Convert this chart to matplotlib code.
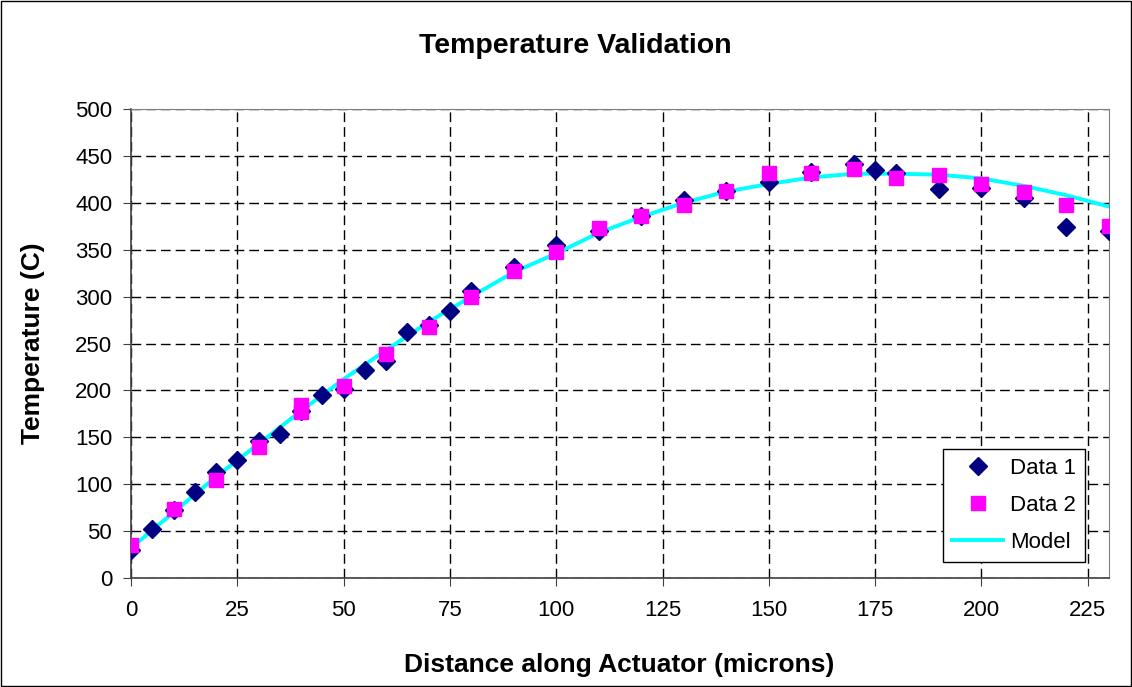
import numpy as np
import matplotlib.pyplot as plt

plt.rcParams['font.family'] = ['Liberation Sans', 'DejaVu Sans']

# Data 1 (diamonds)
x1 = [0, 5, 10, 15, 20, 25, 30, 35, 40, 45, 50, 55, 60, 65, 70, 75, 80, 90,
      100, 110, 120, 130, 140, 150, 160, 170, 175, 180, 190, 200, 210, 220, 230]
y1 = [30, 52, 72, 92, 113, 126, 146, 153, 178, 195, 202, 222, 231, 262, 270, 285, 306, 332,
      355, 370, 386, 403, 413, 422, 433, 441, 435, 432, 415, 416, 405, 374, 370]

# Data 2 (squares)
x2 = [0, 10, 20, 30, 40, 40, 50, 60, 70, 80, 90, 100, 110, 120, 130, 140,
      150, 160, 170, 180, 190, 200, 210, 220, 230]
y2 = [35, 74, 104, 140, 177, 184, 205, 239, 268, 300, 327, 348, 373, 386, 398, 413,
      432, 432, 436, 426, 430, 420, 411, 398, 375]

# Model curve
xm = [0, 10, 20, 30, 40, 50, 60, 70, 80, 90, 100, 110, 120, 130, 140, 150,
      160, 170, 180, 190, 200, 210, 220, 230]
ym = [32, 70, 108, 143, 178, 212, 243, 273, 300, 326, 346, 368, 385, 400, 412, 420,
      427, 431, 431, 430, 426, 418, 408, 396]

fig = plt.figure(figsize=(11.32, 6.87), dpi=100)
ax = fig.add_axes([131/1132, 1 - 578/687, (1109 - 131)/1132, (578 - 109)/687])

ax.plot(xm, ym, color='#00FFFF', lw=2.8, label='Model', zorder=2)
ax.plot(x1, y1, 'D', color='#000080', markersize=9, ls='none', label='Data 1', zorder=3)
ax.plot(x2, y2, 's', color='#FF00FF', markersize=10, ls='none', label='Data 2', zorder=4)

ax.set_xlim(0, 230)
ax.set_ylim(0, 500)
ax.set_xticks(np.arange(0, 226, 25))
ax.set_yticks(np.arange(0, 501, 50))
ax.grid(True, color='black', ls=(0, (7, 3.6)), lw=1)
ax.tick_params(labelsize=16, direction='out', length=5.5, color='#404040')
ax.tick_params(axis='y', pad=8)
ax.tick_params(axis='x', pad=10)
for s in ['top', 'right']:
    ax.spines[s].set_color('#808080')
for s in ['left', 'bottom']:
    ax.spines[s].set_color('#404040')
    ax.spines[s].set_linewidth(1.2)

fig.text(575/1132, 1 - 46/687, 'Temperature Validation', fontsize=20.5,
         fontweight='bold', ha='center', va='center')
fig.text(619/1132, 1 - 665/687, 'Distance along Actuator (microns)', fontsize=19,
         fontweight='bold', ha='center', va='center')
fig.text(33/1132, 1 - 343/687, 'Temperature (C)', fontsize=19, fontweight='bold',
         ha='center', va='center', rotation=90)

h, l = ax.get_legend_handles_labels()
order = [1, 2, 0]
leg = ax.legend([h[i] for i in order], [l[i] for i in order], loc='lower right',
                bbox_to_anchor=(0.9755, 0.034), fontsize=16, fancybox=False,
                edgecolor='black', framealpha=1, borderaxespad=0,
                handlelength=2.3, labelspacing=0.72, borderpad=0.4, handletextpad=0.3)
leg.get_frame().set_linewidth(1)

fig.patches.append(plt.Rectangle((0.001, 0.001), 0.998, 0.998, transform=fig.transFigure,
                                 fill=False, edgecolor='black', lw=1))

fig.savefig('out.png', dpi=100)
